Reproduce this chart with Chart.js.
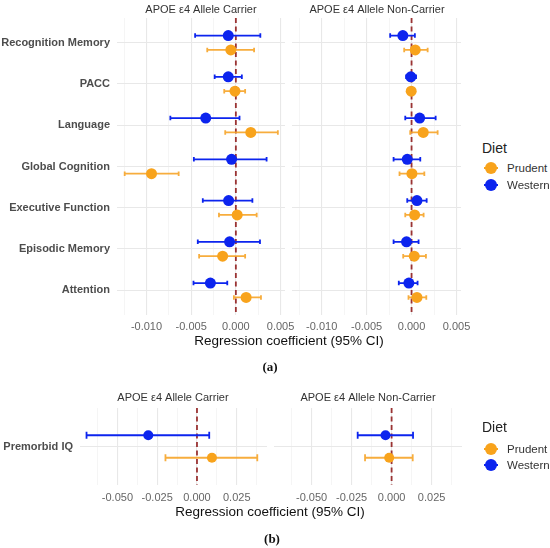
<!DOCTYPE html>
<html>
<head>
<meta charset="utf-8">
<script src="https://cdn.jsdelivr.net/npm/chart.js@4.4.1/dist/chart.umd.min.js"></script>
<style>
  body { margin: 0; background: #fff; font-family: "Liberation Sans", Arial, sans-serif; }
  #page { position: relative; width: 550px; height: 548px; overflow: hidden; }
  .wrap { position: absolute; }
  .txt { position: absolute; white-space: nowrap; transform: translate(-50%, -50%); }
  .strip { font-size: 11px; color: #333; }
  .axtitle { font-size: 13.5px; color: #111; }
  .tag { font-family: "Liberation Serif", "Times New Roman", serif; font-weight: bold; font-size: 13px; color: #111; }
  .legend { position: absolute; }
  .legend .ltitle { position: absolute; left: 0; font-size: 14px; color: #222; transform: translateY(-50%); }
  .legend .item { position: absolute; left: 0; font-size: 11.5px; color: #333; transform: translateY(-50%); white-space: nowrap; }
  .legend .key { position: absolute; left: 2px; top: 50%; width: 14px; height: 12px; transform: translateY(-50%); }
  .legend .kline { position: absolute; left: 0; top: 5px; width: 14px; height: 2px; }
  .legend .kdot { position: absolute; left: 1px; top: 0; width: 12px; height: 12px; border-radius: 50%; }
  .legend .lab { position: absolute; left: 25px; transform: translateY(-50%); top: 50%; }
</style>
</head>
<body>
<div id="page">
  <div class="wrap" style="left:0;top:0"><canvas id="aCarrier" width="300" height="345"></canvas></div>
  <div class="wrap" style="left:277px;top:0"><canvas id="aNon" width="200" height="345"></canvas></div>
  <div class="wrap" style="left:0;top:390px"><canvas id="bCarrier" width="285" height="120"></canvas></div>
  <div class="wrap" style="left:259px;top:390px"><canvas id="bNon" width="220" height="120"></canvas></div>

  <div class="txt strip" style="left:201px;top:9px">APOE ε4 Allele Carrier</div>
  <div class="txt strip" style="left:377px;top:9px">APOE ε4 Allele Non-Carrier</div>
  <div class="txt axtitle" style="left:289px;top:340px">Regression coefficient (95% CI)</div>
  <div class="txt tag" style="left:270px;top:367px">(a)</div>

  <div class="txt strip" style="left:173px;top:397px">APOE ε4 Allele Carrier</div>
  <div class="txt strip" style="left:368px;top:397px">APOE ε4 Allele Non-Carrier</div>
  <div class="txt axtitle" style="left:270px;top:511px">Regression coefficient (95% CI)</div>
  <div class="txt tag" style="left:272px;top:539px">(b)</div>

  <div class="legend" id="legA" style="left:482px;top:0"></div>
  <div class="legend" id="legB" style="left:482px;top:0"></div>
</div>

<script>
// ---- data ----
const outcomes = ["Recognition Memory", "PACC", "Language", "Global Cognition",
  "Executive Function", "Episodic Memory", "Attention"];
const outcomesB = ["Premorbid IQ"];
const diets = ["Western", "Prudent"];

// (a) APOE e4 carriers
const carrierWestern = [-0.00085, -0.00085, -0.00337, -0.00048, -0.00081, -0.0007, -0.00285];
const carrierWesternLo = [-0.00456, -0.00237, -0.00733, -0.0047, -0.0037, -0.00426, -0.00474];
const carrierWesternHi = [0.00274, 0.00067, 0.00041, 0.00344, 0.00185, 0.0027, -0.00096];
const carrierPrudent = [-0.00056, -0.0001, 0.00167, -0.00944, 0.00015, -0.00148, 0.00115];
const carrierPrudentLo = [-0.0032, -0.0013, -0.00119, -0.01244, -0.00189, -0.00411, -0.00022];
const carrierPrudentHi = [0.00204, 0.00104, 0.0047, -0.0064, 0.00233, 0.00104, 0.00281];

// (a) non-carriers
const nonWestern = [-0.00097, -0.00008, 0.0009, -0.00048, 0.0006, -0.00056, -0.0003];
const nonWesternLo = [-0.00238, -0.0006, -0.0007, -0.002, -0.00048, -0.002, -0.00142];
const nonWesternHi = [0.00037, 0.0005, 0.00268, 0.00097, 0.00168, 0.00078, 0.00067];
const nonPrudent = [0.00041, -0.00004, 0.0013, 0.00004, 0.00034, 0.0003, 0.0006];
const nonPrudentLo = [-0.00082, -0.0003, -0.00015, -0.00134, -0.0007, -0.00093, -0.00034];
const nonPrudentHi = [0.00179, 0.0003, 0.0029, 0.00142, 0.00134, 0.0016, 0.00164];

// (b) premorbid IQ
const iqCarrierWestern = [-0.0306], iqCarrierWesternLo = [-0.0694], iqCarrierWesternHi = [0.0077];
const iqCarrierPrudent = [0.0094], iqCarrierPrudentLo = [-0.0198], iqCarrierPrudentHi = [0.0379];
const iqNonWestern = [-0.0038], iqNonWesternLo = [-0.0212], iqNonWesternHi = [0.0134];
const iqNonPrudent = [-0.0015], iqNonPrudentLo = [-0.0166], iqNonPrudentHi = [0.0132];

// x ticks (major labelled, minor unlabelled)
const ticksA = [-0.0125, -0.01, -0.0075, -0.005, -0.0025, 0, 0.0025, 0.005];
const majorA = [-0.01, -0.005, 0, 0.005];
const ticksB = [-0.0625, -0.05, -0.0375, -0.025, -0.0125, 0, 0.0125, 0.025, 0.0375];
const majorB = [-0.05, -0.025, 0, 0.025];

const colors = { Western: "#0c24ee", Prudent: "#f8a31c" };
const dodge = 0.175;

const errorBars = {
  id: "errorBars",
  beforeDatasetsDraw(chart) {
    const { ctx, chartArea, scales: { x, y } } = chart;
    ctx.save();
    // reference line at zero
    const x0 = x.getPixelForValue(0);
    ctx.strokeStyle = "#9a3333";
    ctx.lineWidth = 1.8;
    ctx.setLineDash([5, 3.5]);
    ctx.beginPath();
    ctx.moveTo(x0, chartArea.top);
    ctx.lineTo(x0, chartArea.bottom);
    ctx.stroke();
    ctx.setLineDash([]);
    chart.data.datasets.forEach(ds => {
      ctx.strokeStyle = ds.barColor;
      ctx.lineWidth = 1.8;
      ds.data.forEach(p => {
        const yp = y.getPixelForValue(p.y);
        const cap = Math.abs(y.getPixelForValue(p.y + 0.055) - yp);
        const xl = x.getPixelForValue(p.lo), xh = x.getPixelForValue(p.hi);
        ctx.beginPath();
        ctx.moveTo(xl, yp); ctx.lineTo(xh, yp);
        ctx.moveTo(xl, yp - cap); ctx.lineTo(xl, yp + cap);
        ctx.moveTo(xh, yp - cap); ctx.lineTo(xh, yp + cap);
        ctx.stroke();
      });
    });
    ctx.restore();
  }
};

function points(est, lo, hi, off) {
  return est.map((v, i) => ({ x: v, y: i + off, lo: lo[i], hi: hi[i] }));
}

function facet(id, cats, western, prudent, o) {
  const datasets = [
    { label: "Prudent", data: prudent, backgroundColor: colors.Prudent, barColor: "rgba(246,164,40,0.9)" },
    { label: "Western", data: western, backgroundColor: colors.Western, barColor: colors.Western }
  ].map(d => Object.assign(d, { pointRadius: o.radius, pointBorderWidth: 0, borderWidth: 0 }));

  new Chart(document.getElementById(id), {
    type: "scatter",
    data: { datasets },
    plugins: [errorBars],
    options: {
      responsive: false,
      animation: false,
      layout: { padding: o.padding },
      plugins: { legend: { display: false }, tooltip: { enabled: false } },
      scales: {
        x: {
          min: o.xmin, max: o.xmax,
          afterBuildTicks: s => { s.ticks = o.ticks.map(v => ({ value: v })); },
          afterFit: s => { s.height = o.xHeight; },
          border: { display: false },
          grid: {
            drawTicks: false,
            color: c => o.major.some(m => Math.abs(m - c.tick.value) < 1e-9) ? "#e8e8e8" : "#f2f2f2",
            lineWidth: c => o.major.some(m => Math.abs(m - c.tick.value) < 1e-9) ? 1.1 : 0.8
          },
          ticks: {
            autoSkip: false, maxRotation: 0, padding: o.tickPad,
            color: "#666", font: { family: "Liberation Sans", size: 11 },
            callback: v => o.major.some(m => Math.abs(m - v) < 1e-9) ? v.toFixed(3) : ""
          }
        },
        y: {
          reverse: true,
          min: -0.6, max: cats.length - 0.4,
          afterBuildTicks: s => { s.ticks = cats.map((c, i) => ({ value: i })); },
          afterFit: s => { s.width = o.yWidth; },
          border: { display: false },
          grid: { drawTicks: false, color: "#e8e8e8", lineWidth: 1.1 },
          ticks: {
            display: o.showLabels, autoSkip: false, padding: 7,
            color: "#4d4d4d", font: { family: "Liberation Sans", size: 11, weight: "bold" },
            callback: v => cats[v]
          }
        }
      }
    }
  });
}

const optsA = { xmin: -0.0133, xmax: 0.0055, ticks: ticksA, major: majorA, xHeight: 30, tickPad: 5, radius: 5.5 };
facet("aCarrier", outcomes,
  points(carrierWestern, carrierWesternLo, carrierWesternHi, -dodge),
  points(carrierPrudent, carrierPrudentLo, carrierPrudentHi, dodge),
  Object.assign({}, optsA, { yWidth: 117, showLabels: true, padding: { top: 18, right: 15, left: 0, bottom: 0 } }));
facet("aNon", outcomes,
  points(nonWestern, nonWesternLo, nonWesternHi, -dodge),
  points(nonPrudent, nonPrudentLo, nonPrudentHi, dodge),
  Object.assign({}, optsA, { yWidth: 0, showLabels: false, padding: { top: 18, right: 16, left: 15, bottom: 0 } }));

const optsB = { xmin: -0.0735, xmax: 0.044, ticks: ticksB, major: majorB, xHeight: 25, tickPad: 6, radius: 5 };
facet("bCarrier", outcomesB,
  points(iqCarrierWestern, iqCarrierWesternLo, iqCarrierWesternHi, -dodge),
  points(iqCarrierPrudent, iqCarrierPrudentLo, iqCarrierPrudentHi, dodge),
  Object.assign({}, optsB, { yWidth: 80, showLabels: true, padding: { top: 18, right: 18, left: 0, bottom: 0 } }));
facet("bNon", outcomesB,
  points(iqNonWestern, iqNonWesternLo, iqNonWesternHi, -dodge),
  points(iqNonPrudent, iqNonPrudentLo, iqNonPrudentHi, dodge),
  Object.assign({}, optsB, { yWidth: 0, showLabels: false, padding: { top: 18, right: 17, left: 15, bottom: 0 } }));

// legends
function legend(id, titleY, itemYs) {
  const el = document.getElementById(id);
  let html = '<div class="ltitle" style="top:' + titleY + 'px">Diet</div>';
  ["Prudent", "Western"].forEach((d, i) => {
    html += '<div class="item" style="top:' + itemYs[i] + 'px;height:14px;width:70px">' +
      '<span class="key"><span class="kline" style="background:' + colors[d] + '"></span>' +
      '<span class="kdot" style="background:' + colors[d] + '"></span></span>' +
      '<span class="lab">' + d + '</span></div>';
  });
  el.innerHTML = html;
}
legend("legA", 148, [168, 185]);
legend("legB", 427, [449, 465]);
</script>
</body>
</html>
